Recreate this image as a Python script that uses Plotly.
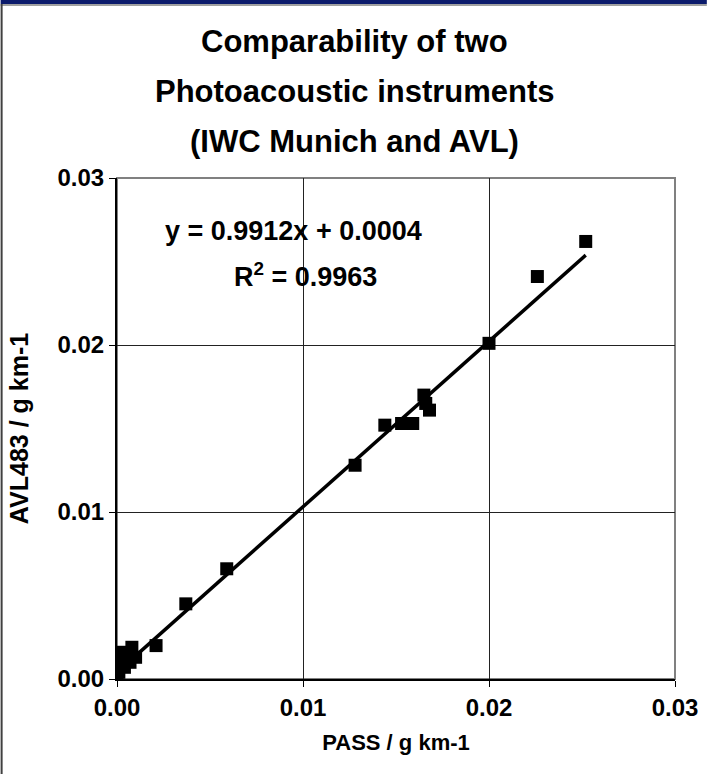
import plotly.graph_objects as go

# ---- data ----
pass_x = [0.0000, 0.0000, 0.0001, 0.0002, 0.0003, 0.0004, 0.0005, 0.0006, 0.0007,
          0.0008, 0.0010, 0.0021, 0.0037, 0.0059, 0.0128, 0.0144, 0.0153, 0.0159,
          0.0165, 0.0166, 0.0168, 0.0200, 0.0226, 0.0252]
avl_y = [0.0003, 0.0006, 0.0004, 0.0009, 0.0016, 0.0007, 0.0012, 0.0015, 0.0010,
         0.0019, 0.0013, 0.0020, 0.0045, 0.0066, 0.0128, 0.0152, 0.0153, 0.0153,
         0.0170, 0.0165, 0.0161, 0.0201, 0.0241, 0.0262]
slope = 0.9912
intercept = 0.0004
r2 = 0.9963
tick_vals = [0.00, 0.01, 0.02, 0.03]
tick_text = ["0.00", "0.01", "0.02", "0.03"]
title_lines = ["Comparability of two", "Photoacoustic instruments", "(IWC Munich and AVL)"]

W, H = 710, 774
L, R, T, B = 117, 32, 178, 95
pw, ph = W - L - R, H - T - B

def px2paper_x(px):
    return (px - L) / pw

def py2paper_y(py):
    return (H - B - py) / ph

FONT = "Liberation Sans, Arial, sans-serif"

fit_x = [min(pass_x), max(pass_x)]
fit_y = [slope * v + intercept for v in fit_x]

fig = go.Figure()
fig.add_trace(go.Scatter(x=pass_x, y=avl_y, mode="markers",
                         marker=dict(symbol="square", size=13, color="black"),
                         showlegend=False))
fig.add_trace(go.Scatter(x=fit_x, y=fit_y, mode="lines",
                         line=dict(color="black", width=3.5), showlegend=False))

axis_common = dict(range=[0, 0.03], tickvals=tick_vals, ticktext=tick_text,
                   showgrid=True, gridcolor="#222222", gridwidth=1, zeroline=False,
                   showline=True, linecolor="black", linewidth=2,
                   ticks="outside", ticklen=6, tickcolor="black", tickwidth=1,
                   tickfont=dict(family=FONT, size=24, color="black", weight="bold"))

fig.update_layout(
    width=W, height=H,
    margin=dict(l=L, r=R, t=T, b=B),
    paper_bgcolor="white", plot_bgcolor="white",
    xaxis=dict(**axis_common,
               title=dict(text="PASS / g km-1", standoff=15,
                          font=dict(family=FONT, size=22, color="black", weight="bold"))),
    yaxis=dict(**axis_common,
               title=dict(text="AVL483 / g km-1", standoff=22,
                          font=dict(family=FONT, size=25, color="black", weight="bold"))),
)

# title lines
for txt, py in zip(title_lines, [42, 92, 141]):
    fig.add_annotation(text=txt, xref="paper", yref="paper",
                       x=px2paper_x(356), y=py2paper_y(py), xanchor="center", yanchor="middle",
                       showarrow=False,
                       font=dict(family=FONT, size=31, color="black", weight="bold"))

# equation
fig.add_annotation(text=f"y = {slope}x + {intercept}", x=0.00947, y=0.02683,
                   xref="x", yref="y", showarrow=False, xanchor="center", yanchor="middle",
                   font=dict(family=FONT, size=27, color="black", weight="bold"))
fig.add_annotation(text=f"R<sup>2</sup> = {r2}", x=0.01016, y=0.02419,
                   xref="x", yref="y", showarrow=False, xanchor="center", yanchor="middle",
                   font=dict(family=FONT, size=27, color="black", weight="bold"))

# plot border (top/right gray)
fig.add_shape(type="rect", xref="x domain", yref="y domain", x0=0, x1=1, y0=0, y1=1,
              line=dict(color="#808080", width=2), layer="below")
# outer frame: navy bar at top, thin gray line under it, dark line on left
fig.add_shape(type="rect", xref="paper", yref="paper",
              x0=px2paper_x(0), x1=px2paper_x(W), y0=py2paper_y(4), y1=py2paper_y(0),
              fillcolor="#0b1a6b", line=dict(width=0))
fig.add_shape(type="line", xref="paper", yref="paper",
              x0=px2paper_x(0), x1=px2paper_x(W), y0=py2paper_y(5), y1=py2paper_y(5),
              line=dict(color="#808080", width=1.5))
fig.add_shape(type="line", xref="paper", yref="paper",
              x0=px2paper_x(1), x1=px2paper_x(1), y0=py2paper_y(H), y1=py2paper_y(4),
              line=dict(color="#404040", width=2))

fig.write_html("out.html")
